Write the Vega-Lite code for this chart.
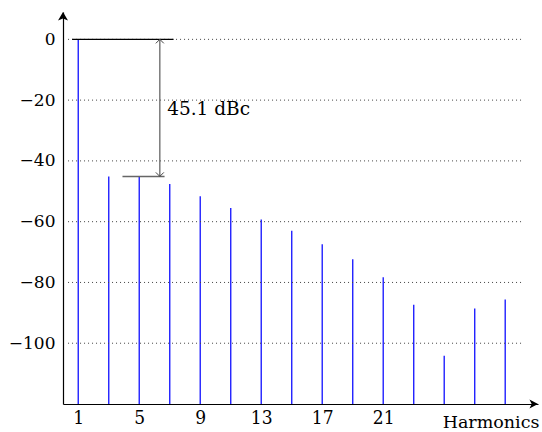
{
  "$schema": "https://vega.github.io/schema/vega-lite/v6.json",
  "width": 475,
  "height": 392,
  "autosize": {"type": "none"},
  "padding": {"left": 63, "top": 12, "right": 4, "bottom": 28},
  "background": "white",
  "config": {"view": {"stroke": null}},
  "datasets": {
    "harmonics": [
      {"harmonic": 1, "dB": 0},
      {"harmonic": 3, "dB": -45.1},
      {"harmonic": 5, "dB": -45.1},
      {"harmonic": 7, "dB": -47.6},
      {"harmonic": 9, "dB": -51.6},
      {"harmonic": 11, "dB": -55.5},
      {"harmonic": 13, "dB": -59.3},
      {"harmonic": 15, "dB": -63.0},
      {"harmonic": 17, "dB": -67.4},
      {"harmonic": 19, "dB": -72.4},
      {"harmonic": 21, "dB": -78.3},
      {"harmonic": 23, "dB": -87.3},
      {"harmonic": 25, "dB": -104.1},
      {"harmonic": 27, "dB": -88.6},
      {"harmonic": 29, "dB": -85.6}
    ],
    "grid": [
      {"level": 0}, {"level": -20}, {"level": -40}, {"level": -60}, {"level": -80}, {"level": -100}
    ]
  },
  "layer": [
    {
      "data": {"name": "harmonics"},
      "mark": {"type": "rule", "color": "#2020ff", "strokeWidth": 1.4},
      "encoding": {
        "x": {
          "field": "harmonic",
          "type": "quantitative",
          "scale": {"domain": [0, 31.15], "nice": false, "zero": false},
          "axis": {
            "values": [1, 5, 9, 13, 17, 21],
            "ticks": false,
            "grid": false,
            "domainColor": "black",
            "domainWidth": 1.2,
            "labelFont": "'DejaVu Serif Condensed', 'DejaVu Serif'",
            "labelFontSize": 19,
            "labelColor": "black",
            "labelPadding": 4,
            "labelFlush": false,
            "title": "Harmonics",
            "titleFont": "DejaVu Serif",
            "titleFontSize": 17.5,
            "titleFontWeight": "normal",
            "titleColor": "black",
            "titleAnchor": "end",
            "titleAlign": "right",
            "titleBaseline": "alphabetic",
            "titleX": 476,
            "titleY": 23
          }
        },
        "y": {
          "field": "dB",
          "type": "quantitative",
          "scale": {"domain": [-120, 9], "nice": false, "zero": false},
          "axis": {
            "values": [0, -20, -40, -60, -80, -100],
            "ticks": false,
            "grid": false,
            "domainColor": "black",
            "domainWidth": 1.2,
            "labelFont": "DejaVu Serif",
            "labelFontSize": 17,
            "labelColor": "black",
            "labelPadding": 8,
            "labelFlush": false,
            "title": null
          }
        },
        "y2": {"datum": -120}
      }
    },
    {
      "data": {"name": "grid"},
      "mark": {"type": "rule", "strokeDash": [1, 3], "color": "#444", "strokeWidth": 1},
      "encoding": {
        "y": {"field": "level", "type": "quantitative"},
        "x": {"datum": 0.33},
        "x2": {"datum": 30.1}
      }
    },
    {
      "data": {"values": [{}]},
      "mark": {"type": "rule", "color": "black", "strokeWidth": 1.2},
      "encoding": {"x": {"datum": 0.6}, "x2": {"datum": 7.25}, "y": {"datum": 0}}
    },
    {
      "data": {"values": [{}]},
      "mark": {"type": "rule", "color": "#666", "strokeWidth": 1.5},
      "encoding": {"x": {"datum": 3.9}, "x2": {"datum": 6.66}, "y": {"datum": -45.1}}
    },
    {
      "data": {"values": [{}]},
      "mark": {"type": "rule", "color": "#666", "strokeWidth": 1.3},
      "encoding": {"x": {"datum": 6.35}, "y": {"datum": 0}, "y2": {"datum": -45.1}}
    },
    {
      "data": {"values": [{}]},
      "mark": {"type": "point", "shape": "M-1,1L0,0L1,1", "filled": false, "stroke": "#444", "strokeWidth": 1, "size": 64, "opacity": 1},
      "encoding": {"x": {"datum": 6.35}, "y": {"datum": 0}}
    },
    {
      "data": {"values": [{}]},
      "mark": {"type": "point", "shape": "M-1,-1L0,0L1,-1", "filled": false, "stroke": "#444", "strokeWidth": 1, "size": 64, "opacity": 1},
      "encoding": {"x": {"datum": 6.35}, "y": {"datum": -45.1}}
    },
    {
      "data": {"values": [{}]},
      "mark": {"type": "point", "shape": "M0,0L1,1.7L0,1.3L-1,1.7Z", "filled": true, "fill": "black", "strokeWidth": 0, "size": 100, "opacity": 1},
      "encoding": {"x": {"datum": 0}, "y": {"datum": 9}}
    },
    {
      "data": {"values": [{}]},
      "mark": {"type": "point", "shape": "M0,0L-1.9,1L-1.4,0L-1.9,-1Z", "filled": true, "fill": "black", "strokeWidth": 0, "size": 81, "opacity": 1},
      "encoding": {"x": {"datum": 31.15}, "y": {"datum": -120}}
    },
    {
      "data": {"values": [{}]},
      "mark": {"type": "text", "text": "45.1 dBc", "align": "left", "baseline": "alphabetic", "fontSize": 18.5, "font": "DejaVu Serif", "color": "black"},
      "encoding": {"x": {"datum": 6.83}, "y": {"datum": -24.85}}
    }
  ]
}
